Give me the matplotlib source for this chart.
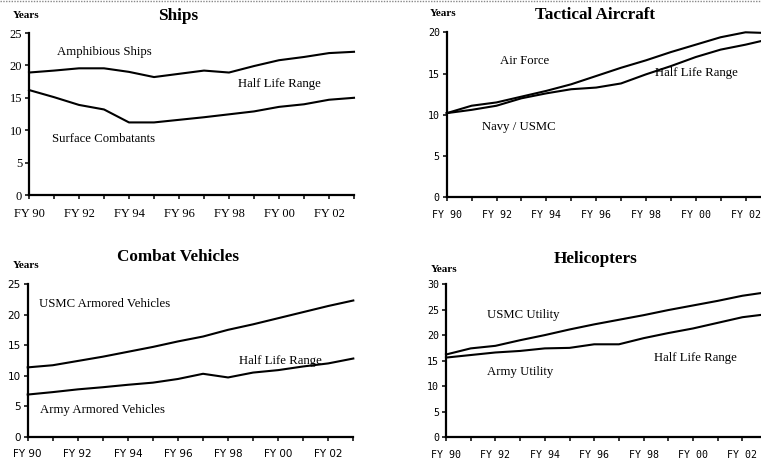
import matplotlib
matplotlib.use("Agg")
import matplotlib.pyplot as plt
from matplotlib.lines import Line2D

# Fiscal years FY90 .. FY03
years = [90, 91, 92, 93, 94, 95, 96, 97, 98, 99, 100, 101, 102, 103]
tick_labels = ["FY 90", "", "FY 92", "", "FY 94", "", "FY 96", "", "FY 98", "",
               "FY 00", "", "FY 02", ""]

# Average age (years) by platform group
amphibious_ships = [18.9, 19.2, 19.55, 19.55, 19.0, 18.2, 18.7, 19.2, 18.9, 19.9, 20.8, 21.3, 21.9, 22.1]
surface_combatants = [16.2, 15.1, 13.9, 13.2, 11.2, 11.2, 11.6, 12.0, 12.45, 12.9, 13.6, 14.0, 14.7, 15.0]

air_force = [10.2, 11.1, 11.5, 12.2, 12.9, 13.7, 14.7, 15.7, 16.6, 17.6, 18.5, 19.4, 20.0, 19.9]
navy_usmc = [10.2, 10.6, 11.1, 12.0, 12.6, 13.1, 13.3, 13.8, 14.9, 15.9, 17.0, 17.9, 18.5, 19.2]

usmc_armored = [11.35, 11.7, 12.4, 13.1, 13.9, 14.7, 15.6, 16.4, 17.5, 18.4, 19.4, 20.4, 21.4, 22.3]
army_armored = [6.9, 7.3, 7.75, 8.1, 8.5, 8.85, 9.45, 10.3, 9.7, 10.5, 10.9, 11.5, 12.0, 12.8]

usmc_utility = [16.2, 17.4, 17.9, 19.0, 20.0, 21.1, 22.1, 23.0, 23.9, 24.9, 25.8, 26.7, 27.7, 28.4]
army_utility = [15.6, 16.1, 16.6, 16.9, 17.4, 17.5, 18.2, 18.2, 19.4, 20.4, 21.3, 22.4, 23.5, 24.1]

W, H = 761, 461
fig = plt.figure(figsize=(W / 100, H / 100), dpi=100)
SERIF = "Liberation Serif"
MONO = "DejaVu Sans Mono"


def px_box(x0, x1, y_bottom, y_top):
    return [x0 / W, 1 - y_bottom / H, (x1 - x0) / W, (y_bottom - y_top) / H]


def make_panel(box, ymax, ystep, series, labels, tick_font, tick_size):
    ax = fig.add_axes(box)
    for vals in series:
        ax.plot(years, vals, color="black", lw=1.5, solid_joinstyle="round",
                clip_on=False)
    ax.set_xlim(90, 103)
    ax.set_ylim(0, ymax)
    ax.set_xticks(years)
    ax.set_xticklabels(tick_labels, fontfamily=tick_font, fontsize=tick_size)
    ax.tick_params(axis="x", direction="out", length=3, width=1.1, pad=6)
    yt = list(range(0, ymax + 1, ystep))
    ax.set_yticks(yt)
    ax.set_yticklabels([str(v) for v in yt], fontfamily=tick_font, fontsize=tick_size)
    ax.tick_params(axis="y", direction="out", length=3, width=1.1, pad=2)
    for side in ("top", "right"):
        ax.spines[side].set_visible(False)
    for side in ("left", "bottom"):
        ax.spines[side].set_linewidth(1.6)
    ax.patch.set_alpha(0)
    for (tx, ty, s) in labels:
        ax.text(tx, ty, s, ha="left", va="center", fontfamily=SERIF, fontsize=9.2)
    return ax


# Ships
make_panel(px_box(29, 354, 195, 33), 25, 5,
           [amphibious_ships, surface_combatants],
           [(91.12, 22.1, "Amphibious Ships"),
            (98.36, 17.1, "Half Life Range"),
            (90.92, 8.6, "Surface Combatants")],
           SERIF, 9)

# Tactical Aircraft (right edge runs past the page)
make_panel(px_box(446.7, 446.7 + 13 * 24.9, 197.3, 32.3), 20, 5,
           [air_force, navy_usmc],
           [(92.14, 16.5, "Air Force"),
            (98.37, 15.1, "Half Life Range"),
            (91.42, 8.5, "Navy / USMC")],
           MONO, 7.2)

# Combat Vehicles
make_panel(px_box(27.7, 353.3, 436.7, 284), 25, 5,
           [usmc_armored, army_armored],
           [(90.45, 21.7, "USMC Armored Vehicles"),
            (98.43, 12.4, "Half Life Range"),
            (90.49, 4.4, "Army Armored Vehicles")],
           "DejaVu Sans", 7.5)

# Helicopters
make_panel(px_box(446, 446 + 13 * 24.7, 437.3, 284), 30, 5,
           [usmc_utility, army_utility],
           [(91.66, 23.9, "USMC Utility"),
            (98.42, 15.5, "Half Life Range"),
            (91.66, 12.8, "Army Utility")],
           MONO, 7.2)

# Panel titles and unit captions
titles = [("Ships", 178, 16), ("Tactical Aircraft", 595, 15),
          ("Combat Vehicles", 178, 257), ("Helicopters", 596, 259)]
for s, x, y in titles:
    fig.text(x / W, 1 - y / H, s, ha="center", va="center",
             fontfamily=SERIF, fontweight="bold", fontsize=12.3)

units = [(13, 15), (430, 14), (13, 265), (431, 269)]
for x, y in units:
    fig.text(x / W, 1 - y / H, "Years", ha="left", va="center",
             fontfamily=SERIF, fontweight="bold", fontsize=8)

# Dotted rule along the top of the page
fig.add_artist(Line2D([0, 1], [1 - 1.5 / H, 1 - 1.5 / H], transform=fig.transFigure,
                      color="#888888", lw=1.0, linestyle=(0, (1, 1))))

fig.savefig("out.png", dpi=100)
